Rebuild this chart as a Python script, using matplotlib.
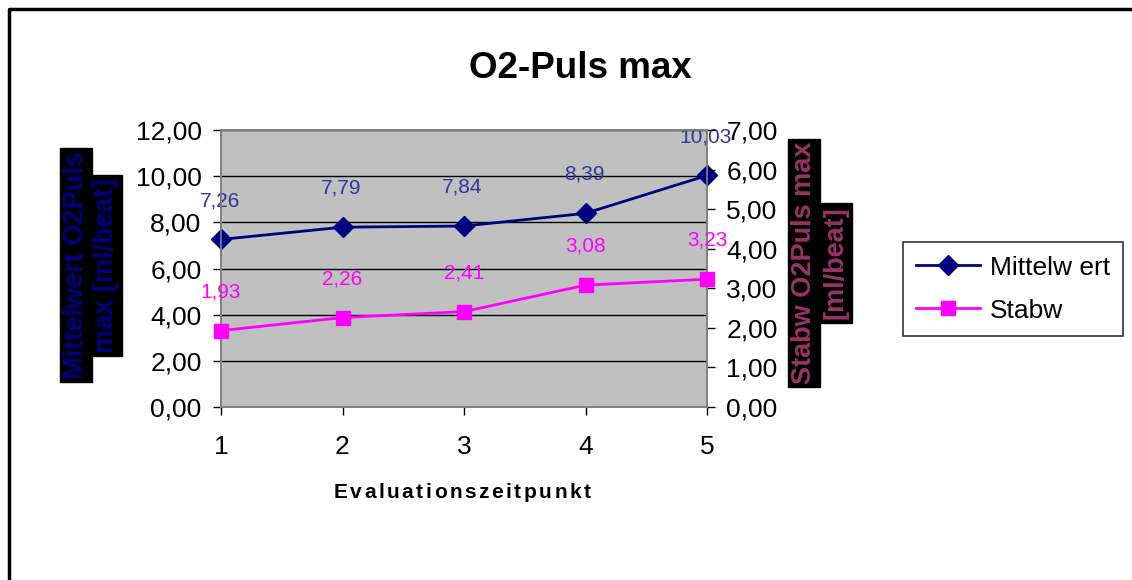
import matplotlib
matplotlib.use("Agg")
import matplotlib.pyplot as plt
from matplotlib.lines import Line2D
from matplotlib.ticker import FuncFormatter, MultipleLocator
from matplotlib.font_manager import FontProperties

plt.rcParams['font.family'] = ['Liberation Sans', 'DejaVu Sans']

# data
zeitpunkt = [1, 2, 3, 4, 5]
mittelwert = [7.26, 7.79, 7.84, 8.39, 10.03]
stabw = [1.93, 2.26, 2.41, 3.08, 3.23]
legend_labels = ["Mittelw ert", "Stabw"]

W, H = 1132, 580
fig = plt.figure(figsize=(W / 100, H / 100), dpi=100)

ax = fig.add_axes([221 / W, 1 - 407 / H, (707 - 221) / W, (407 - 130) / H])
ax2 = ax.twinx()

ax.set_facecolor('#C0C0C0')
ax.set_xlim(1, 5)
ax.set_ylim(0, 12)
ax2.set_ylim(0, 7)
ax.yaxis.set_major_locator(MultipleLocator(2))
ax2.yaxis.set_major_locator(MultipleLocator(1))
ax.set_xticks(zeitpunkt)

fmt = FuncFormatter(lambda v, p: f"{v:.2f}".replace('.', ','))
ax.yaxis.set_major_formatter(fmt)
ax2.yaxis.set_major_formatter(fmt)

ax.grid(axis='y', color='black', lw=1)
ax.set_axisbelow(True)

for a in (ax, ax2):
    for s in a.spines.values():
        s.set_color('#808080')
        s.set_linewidth(1.2)
    a.tick_params(direction='out', length=6, width=1, color='black', labelsize=19)
ax.tick_params(axis='y', pad=8)
ax.tick_params(axis='x', pad=14)
ax2.tick_params(axis='y', pad=8)

l1, = ax.plot(zeitpunkt, mittelwert, color='#000080', lw=2, marker='D',
              markersize=10, clip_on=False, zorder=5)
l2, = ax2.plot(zeitpunkt, stabw, color='#FF00FF', lw=2, marker='s',
               markersize=10, clip_on=False, zorder=5)

for x, v in zip(zeitpunkt, mittelwert):
    ax.annotate(f"{v:.2f}".replace('.', ','), (x, v), xytext=(-1, 28),
                textcoords='offset points', ha='center', va='center',
                fontsize=15, color='#333399', annotation_clip=False)
for x, v in zip(zeitpunkt, stabw):
    ax2.annotate(f"{v:.2f}".replace('.', ','), (x, v), xytext=(0, 28),
                 textcoords='offset points', ha='center', va='center',
                 fontsize=15, color='#FF00FF', annotation_clip=False)

fig.text(580 / W, 1 - 68 / H, "O2-Puls max", ha='center', va='center',
         fontsize=26.5, fontweight='bold')

# y axis titles with black boxes
box = dict(facecolor='black', edgecolor='black', boxstyle='square,pad=0.12')
fig.text(76 / W, 1 - 265 / H, "Mittelwert O2Puls", rotation=90, ha='center', va='center',
         fontsize=19.5, fontweight='bold', color='#000080', bbox=box)
fig.text(106 / W, 1 - 266 / H, "max [ml/beat]", rotation=90, ha='center', va='center',
         fontsize=19.5, fontweight='bold', color='#000080', bbox=box)
fig.text(804 / W, 1 - 263 / H, "Stabw O2Puls max", rotation=90, ha='center', va='center',
         fontsize=19.5, fontweight='bold', color='#993366', bbox=box)
fig.text(836 / W, 1 - 263 / H, "[ml/beat]", rotation=90, ha='center', va='center',
         fontsize=19.5, fontweight='bold', color='#993366', bbox=box)

# x axis title, letter spaced
xlabel = "Evaluationszeitpunkt"
fp = FontProperties(family='Liberation Sans', weight='bold', size=15)
renderer = fig.canvas.get_renderer()
widths = [renderer.get_text_width_height_descent(c, fp, ismath=False)[0] for c in xlabel]
track = 2.5
total = sum(widths) + track * (len(xlabel) - 1)
xpos = 462 - total / 2
for c, w in zip(xlabel, widths):
    fig.text(xpos / W, 1 - 493 / H, c, ha='left', va='center', fontproperties=fp)
    xpos += w + track

leg = fig.legend([l1, l2], legend_labels, loc='center left',
                 bbox_to_anchor=(903 / W, 1 - 289 / H), fontsize=19,
                 frameon=True, fancybox=False, edgecolor='black',
                 handlelength=2.4, handletextpad=0.4, borderpad=0.5,
                 labelspacing=0.72, borderaxespad=0)
leg.get_frame().set_linewidth(1.2)

# outer chart border (top and left visible)
fig.add_artist(Line2D([9 / W, 9 / W, 1], [0, 1 - 9 / H, 1 - 9 / H],
                      transform=fig.transFigure, color='black', lw=2.5))

fig.savefig("out.png", dpi=100)
